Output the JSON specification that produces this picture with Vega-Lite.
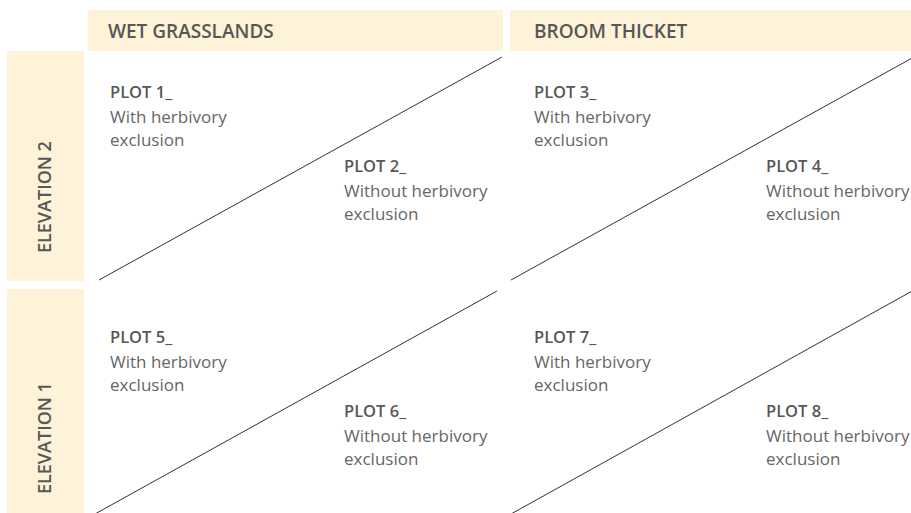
{
  "$schema": "https://vega.github.io/schema/vega-lite/v6.json",
  "width": 911,
  "height": 513,
  "padding": 0,
  "autosize": {"type": "none"},
  "background": "white",
  "config": {"view": {"stroke": null}},
  "datasets": {
    "bands": [
      {"name": "WET GRASSLANDS", "x": 88, "x2": 503, "y": 10, "y2": 51},
      {"name": "BROOM THICKET", "x": 510, "x2": 911, "y": 10, "y2": 51},
      {"name": "ELEVATION 2", "x": 7, "x2": 84, "y": 51, "y2": 281},
      {"name": "ELEVATION 1", "x": 7, "x2": 84, "y": 289, "y2": 513}
    ],
    "diagonals": [
      {"panel": "Elevation 2 / Wet grasslands", "x": 99, "y": 280, "x2": 502, "y2": 57},
      {"panel": "Elevation 2 / Broom thicket", "x": 511, "y": 280, "x2": 914, "y2": 57},
      {"panel": "Elevation 1 / Wet grasslands", "x": 95, "y": 514, "x2": 497, "y2": 291},
      {"panel": "Elevation 1 / Broom thicket", "x": 511, "y": 514, "x2": 914, "y2": 290}
    ],
    "columns": [
      {"label": "WET GRASSLANDS", "x": 108, "y": 38},
      {"label": "BROOM THICKET", "x": 534, "y": 38}
    ],
    "rows": [
      {"label": "ELEVATION 2", "x": 51, "y": 253},
      {"label": "ELEVATION 1", "x": 51, "y": 494}
    ],
    "plots": [
      {"plot": "PLOT 1_", "desc": "With herbivory\nexclusion", "x": 110, "y": 98},
      {"plot": "PLOT 2_", "desc": "Without herbivory\nexclusion", "x": 344, "y": 172},
      {"plot": "PLOT 3_", "desc": "With herbivory\nexclusion", "x": 534, "y": 98},
      {"plot": "PLOT 4_", "desc": "Without herbivory\nexclusion", "x": 766, "y": 172},
      {"plot": "PLOT 5_", "desc": "With herbivory\nexclusion", "x": 110, "y": 343},
      {"plot": "PLOT 6_", "desc": "Without herbivory\nexclusion", "x": 344, "y": 417},
      {"plot": "PLOT 7_", "desc": "With herbivory\nexclusion", "x": 534, "y": 343},
      {"plot": "PLOT 8_", "desc": "Without herbivory\nexclusion", "x": 766, "y": 417}
    ]
  },
  "layer": [
    {
      "data": {"name": "bands"},
      "mark": {"type": "rect", "color": "#fef2d8"},
      "encoding": {
        "x": {"field": "x", "type": "quantitative", "scale": {"domain": [0, 911], "nice": false, "zero": false}, "axis": null},
        "x2": {"field": "x2"},
        "y": {"field": "y", "type": "quantitative", "scale": {"domain": [0, 513], "nice": false, "zero": false, "reverse": true}, "axis": null},
        "y2": {"field": "y2"}
      }
    },
    {
      "data": {"name": "diagonals"},
      "mark": {"type": "rule", "color": "#1a1a1a", "strokeWidth": 0.9},
      "encoding": {
        "x": {"field": "x", "type": "quantitative"},
        "x2": {"field": "x2"},
        "y": {"field": "y", "type": "quantitative"},
        "y2": {"field": "y2"}
      }
    },
    {
      "data": {"name": "columns"},
      "mark": {"type": "text", "align": "left", "baseline": "alphabetic", "font": "Open Sans", "fontSize": 19, "fontWeight": 600, "color": "#575757"},
      "encoding": {
        "x": {"field": "x", "type": "quantitative"},
        "y": {"field": "y", "type": "quantitative"},
        "text": {"field": "label"}
      }
    },
    {
      "data": {"name": "rows"},
      "mark": {"type": "text", "align": "left", "baseline": "alphabetic", "angle": 270, "font": "Open Sans", "fontSize": 18, "fontWeight": 600, "color": "#575757"},
      "encoding": {
        "x": {"field": "x", "type": "quantitative"},
        "y": {"field": "y", "type": "quantitative"},
        "text": {"field": "label"}
      }
    },
    {
      "data": {"name": "plots"},
      "mark": {"type": "text", "align": "left", "baseline": "alphabetic", "font": "Open Sans", "fontSize": 16.5, "fontWeight": 600, "color": "#575757"},
      "encoding": {
        "x": {"field": "x", "type": "quantitative"},
        "y": {"field": "y", "type": "quantitative"},
        "text": {"field": "plot"}
      }
    },
    {
      "data": {"name": "plots"},
      "mark": {"type": "text", "align": "left", "baseline": "alphabetic", "dy": 24.5, "lineBreak": "\n", "lineHeight": 23.5, "font": "Open Sans", "fontSize": 17, "fontWeight": 400, "color": "#666666"},
      "encoding": {
        "x": {"field": "x", "type": "quantitative"},
        "y": {"field": "y", "type": "quantitative"},
        "text": {"field": "desc"}
      }
    }
  ]
}
